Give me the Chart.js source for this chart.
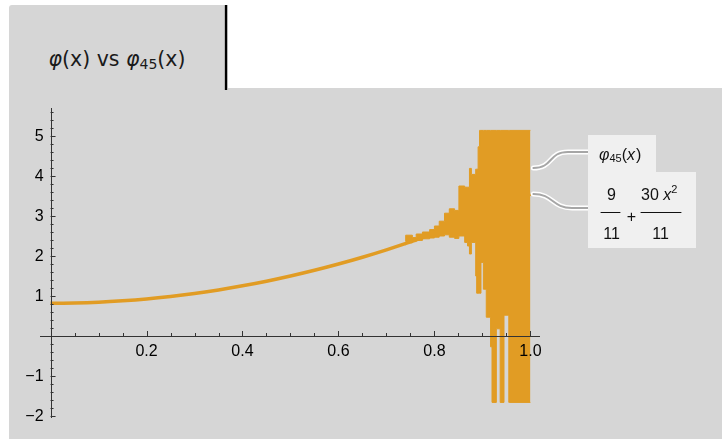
<!DOCTYPE html>
<html>
<head>
<meta charset="utf-8">
<script src="https://cdn.jsdelivr.net/npm/chart.js@4"></script>
<style>
  html, body { margin: 0; padding: 0; background: #ffffff; }
  body { width: 722px; height: 439px; position: relative; overflow: hidden; }
  #tab {
    position: absolute; left: 9px; top: 5px; width: 216px; height: 90px;
    background: #d6d6d6; border-top-left-radius: 3px;
  }
  #tab-title {
    position: absolute; left: 0; width: 216px; top: 42px; text-align: center;
    font-family: "DejaVu Sans", sans-serif; font-size: 20.5px; color: #1a1a1a;
  }
  #tab-title i { font-style: italic; }
  #tab-title sub { font-size: 14px; vertical-align: -3px; }
  #tab-bar { position: absolute; left: 224px; top: 5px; width: 4px; height: 85px; background: #b5b5b5; }
  #tab-bar div { position: absolute; left: 1px; top: 0; width: 2px; height: 85px; background: #000; }
  #panel { position: absolute; left: 9px; top: 88px; width: 713px; height: 351px; background: #d6d6d6; }
  #chart { position: absolute; left: 0; top: 0; }
</style>
</head>
<body>
<div id="tab"><div id="tab-title"><i>φ</i>(x) vs <i>φ</i><sub>45</sub>(x)</div></div>
<div id="panel"></div>
<div id="tab-bar"><div></div></div>
<canvas id="chart" width="722" height="439"></canvas>

<script>
// ========================
// PART 1: Data
// ========================

// smooth curve 9/11 + 30 x^2 / 11
const xSmooth   = [0, 0.05, 0.1, 0.15, 0.2, 0.25, 0.3, 0.35, 0.4, 0.45, 0.5,
                   0.55, 0.6, 0.65, 0.7, 0.75, 0.8, 0.85, 0.9, 0.95, 1.0];
const phiSmooth = [0.818, 0.825, 0.845, 0.880, 0.927, 0.989, 1.064, 1.152, 1.255, 1.370, 1.500,
                   1.643, 1.800, 1.970, 2.155, 2.352, 2.564, 2.788, 3.027, 3.279, 3.545];

// phi_45(x): oscillation envelope where it leaves the smooth curve
const xBand       = [0.74, 0.754, 0.762, 0.775, 0.79, 0.80, 0.81, 0.821, 0.831, 0.842,
                     0.851, 0.863, 0.869, 0.873, 0.877, 0.886, 0.888, 0.891, 0.894, 0.897,
                     0.902, 0.908, 0.917, 0.920, 0.929, 0.937, 0.945, 0.955, 0.957, 1.0];
const phi45Upper  = [2.36, 2.52, 2.46, 2.55, 2.60, 2.66, 2.75, 2.87, 3.07, 3.18,
                     3.14, 3.75, 3.72, 3.72, 4.19, 4.04, 4.17, 4.17, 4.73, 5.14,
                     5.14, 5.14, 5.14, 5.14, 5.14, 5.14, 5.14, 5.14, 5.14, 5.14];
const phi45Lower  = [2.27, 2.33, 2.36, 2.39, 2.43, 2.45, 2.47, 2.50, 2.53, 2.47,
                     2.44, 2.50, 2.34, 2.25, 2.05, 2.34, 1.50, 1.07, 1.07, 1.07,
                     1.84, 1.17, 0.47, -0.27, -1.66, 0.18, -1.66, 0.52, -1.66, -1.66];

// axes
const xTickLabels = ["0.2", "0.4", "0.6", "0.8", "1.0"];
const yTickLabels = ["\u22122", "\u22121", "1", "2", "3", "4", "5"];
const X_MIN = -0.022, X_MAX = 1.02;
const Y_MIN = -2.05,  Y_MAX = 5.7;

const ORANGE = "#e19c24";

// ========================
// PART 2: Plugins
// ========================

// Mathematica style axes crossing at the origin, drawn over the data
const axesPlugin = {
  id: "axesAtOrigin",
  afterDatasetsDraw(chart) {
    const ctx = chart.ctx;
    const area = chart.chartArea;
    const xs = chart.scales.x, ys = chart.scales.y;
    const x0 = xs.getPixelForValue(0);
    const y0 = ys.getPixelForValue(0);

    ctx.save();
    ctx.strokeStyle = "#333";
    ctx.lineWidth = 1;
    ctx.beginPath();
    ctx.moveTo(area.left, Math.round(y0) + 0.5);
    ctx.lineTo(area.right, Math.round(y0) + 0.5);
    ctx.moveTo(Math.round(x0) + 0.5, area.top);
    ctx.lineTo(Math.round(x0) + 0.5, area.bottom);

    // x ticks every 0.05, longer at 0.2
    for (let i = 1; i <= 20; i++) {
      const px = Math.round(xs.getPixelForValue(i * 0.05)) + 0.5;
      const len = (i % 4 === 0) ? 5 : 3;
      ctx.moveTo(px, y0);
      ctx.lineTo(px, y0 - len);
    }
    // y ticks every 0.2, longer at integers
    for (let i = -10; i <= 28; i++) {
      if (i === 0) continue;
      const py = Math.round(ys.getPixelForValue(i * 0.2)) + 0.5;
      const len = (i % 5 === 0) ? 5 : 3;
      ctx.moveTo(x0, py);
      ctx.lineTo(x0 + len, py);
    }
    ctx.stroke();

    ctx.fillStyle = "#000";
    ctx.font = "16px 'Liberation Sans', Arial, sans-serif";
    ctx.textAlign = "center";
    ctx.textBaseline = "middle";
    xTickLabels.forEach(lbl => {
      ctx.fillText(lbl, xs.getPixelForValue(Number(lbl)), y0 + 16);
    });
    ctx.textAlign = "right";
    yTickLabels.forEach(lbl => {
      const v = Number(lbl.replace("\u2212", "-"));
      ctx.fillText(lbl, x0 - 7, ys.getPixelForValue(v) + 1);
    });
    ctx.restore();
  }
};

// callout labels on the right
const calloutPlugin = {
  id: "callouts",
  afterDraw(chart) {
    const ctx = chart.ctx;
    const xs = chart.scales.x, ys = chart.scales.y;
    const sx = xs.getPixelForValue(1.0) + 3;

    function connector(y1, y2, xe) {
      const path = () => {
        ctx.beginPath();
        ctx.moveTo(sx, y1);
        ctx.bezierCurveTo(sx + 20, y1, xe - 30, y2, xe - 10, y2);
        ctx.lineTo(588, y2);
      };
      ctx.lineCap = "round";
      ctx.strokeStyle = "#ffffff";
      ctx.lineWidth = 5;
      path(); ctx.stroke();
      ctx.strokeStyle = "#a6a6a6";
      ctx.lineWidth = 2;
      path(); ctx.stroke();
    }

    ctx.save();
    connector(ys.getPixelForValue(4.2), ys.getPixelForValue(4.6), 578);
    connector(ys.getPixelForValue(3.55), ys.getPixelForValue(3.2), 582);

    ctx.fillStyle = "#f0f0f0";
    ctx.fillRect(588, 135, 68, 37);
    ctx.fillRect(588, 172, 108, 76);

    ctx.fillStyle = "#111";
    ctx.textBaseline = "alphabetic";
    ctx.textAlign = "left";
    const big = "16px 'Liberation Sans', Arial, sans-serif";
    const bigIt = "italic 16px 'Liberation Sans', Arial, sans-serif";
    const small = "11px 'Liberation Sans', Arial, sans-serif";

    // phi_45(x)
    let x = 599;
    const base = 160;
    ctx.font = bigIt; ctx.fillText("φ", x, base); x += ctx.measureText("φ").width;
    ctx.font = small; ctx.fillText("45", x, base + 2); x += ctx.measureText("45").width;
    ctx.font = big;   ctx.fillText("(", x, base); x += ctx.measureText("(").width;
    ctx.font = bigIt; ctx.fillText("x", x, base); x += ctx.measureText("x").width + 1;
    ctx.font = big;   ctx.fillText(")", x, base);

    // 9/11 + 30 x^2/11
    ctx.font = big;
    ctx.textAlign = "center";
    ctx.fillText("9", 611.5, 200);
    ctx.fillText("11", 611.5, 239);
    ctx.fillText("+", 631.5, 222);
    ctx.fillText("11", 660.5, 239);
    ctx.textAlign = "left";
    x = 641;
    ctx.fillText("30 ", x, 200); x += ctx.measureText("30 ").width;
    ctx.font = bigIt; ctx.fillText("x", x, 200); x += ctx.measureText("x").width;
    ctx.font = small; ctx.fillText("2", x, 193);

    ctx.strokeStyle = "#111";
    ctx.lineWidth = 1;
    ctx.beginPath();
    ctx.moveTo(601, 212.5); ctx.lineTo(620, 212.5);
    ctx.moveTo(641, 212.5); ctx.lineTo(681, 212.5);
    ctx.stroke();
    ctx.restore();
  }
};

// ========================
// PART 3: Chart
// ========================

const toPoints = (xs, ys) => xs.map((x, i) => ({ x: x, y: ys[i] }));

const ctx = document.getElementById("chart").getContext("2d");
const myChart = new Chart(ctx, {
  type: "line",
  data: {
    datasets: [
      {
        label: "phi45 upper",
        data: toPoints(xBand, phi45Upper),
        borderColor: ORANGE,
        borderWidth: 1,
        pointRadius: 0,
        stepped: "after",
        fill: false
      },
      {
        label: "phi45 lower",
        data: toPoints(xBand, phi45Lower),
        borderColor: ORANGE,
        backgroundColor: ORANGE,
        borderWidth: 1,
        pointRadius: 0,
        stepped: "after",
        fill: "-1"
      },
      {
        label: "9/11 + 30x^2/11",
        data: toPoints(xSmooth, phiSmooth),
        borderColor: ORANGE,
        borderWidth: 3.5,
        pointRadius: 0,
        cubicInterpolationMode: "monotone",
        fill: false
      }
    ]
  },
  options: {
    responsive: false,
    animation: false,
    layout: { padding: { left: 40, right: 182, top: 108, bottom: 21 } },
    scales: {
      x: { type: "linear", min: X_MIN, max: X_MAX, display: false },
      y: { type: "linear", min: Y_MIN, max: Y_MAX, display: false }
    },
    plugins: {
      legend: { display: false },
      tooltip: { enabled: false }
    }
  },
  plugins: [axesPlugin, calloutPlugin]
});
</script>
</body>
</html>
